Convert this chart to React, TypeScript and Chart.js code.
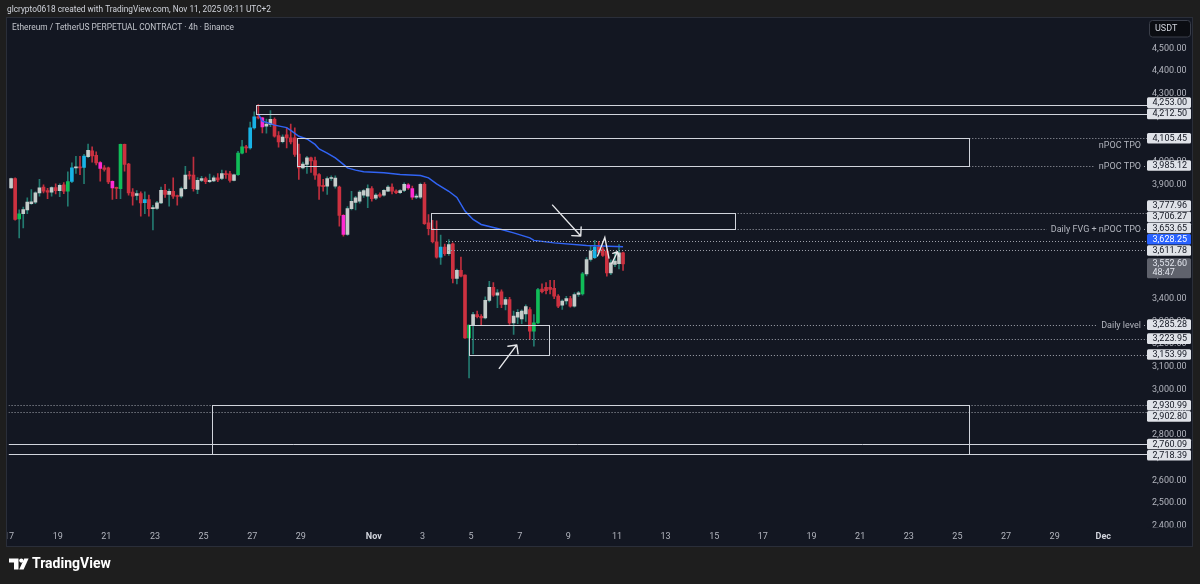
import React, { useEffect, useRef } from "react";
import { Chart, registerables } from "chart.js";

Chart.register(...registerables);

const FONT = 'Roboto, "Noto Sans", "DejaVu Sans", sans-serif';

// ---- time: days since Oct 17 00:00 (UTC+2); 4h bars, first bar Oct 17 02:00
const FIRST_BAR_DAY = 1 / 12;
const BAR_DAYS = 1 / 6;

// ---- ETHUSDT.P 4h candles
const opens = [
  3887, 3928, 3750, 3773, 3790, 3818, 3824, 3865, 3890, 3875,
  3868, 3888, 3875, 3900, 3872, 3915, 3975, 3980, 3977, 4024,
  4050, 4030, 3998, 3975, 3975, 3916, 3888, 3884, 4078, 3992,
  3869, 3854, 3862, 3822, 3836, 3796, 3797, 3821, 3876, 3858,
  3872, 3852, 3850, 3884, 3944, 3943, 3880, 3920, 3928, 3914,
  3918, 3931, 3928, 3950, 3949, 3920, 3945, 4040, 4068, 4063,
  4151, 4200, 4195, 4158, 4166, 4188, 4117, 4090, 4120, 4107,
  4107, 4036, 3975, 3990, 4019, 4007, 3945, 3898, 3894, 3928,
  3894, 3890, 3766, 3682, 3796, 3823, 3828, 3855, 3850, 3884,
  3842, 3858, 3855, 3873, 3890, 3873, 3866, 3876, 3900, 3884,
  3846, 3846, 3902, 3733, 3708, 3650, 3582, 3626, 3597, 3641,
  3489, 3524, 3503, 3227, 3283, 3330, 3322, 3315, 3392, 3450,
  3415, 3430, 3374, 3396, 3293, 3318, 3310, 3332, 3352, 3257,
  3293, 3442, 3450, 3450, 3445, 3411, 3371, 3390, 3400, 3367,
  3418, 3421, 3508, 3572, 3580, 3627, 3618, 3609, 3513, 3550,
  3553, 3601,
];
const highs = [
  3930, 3931, 3790, 3802, 3843, 3880, 3870, 3924, 3900, 3885,
  3892, 3905, 3905, 3910, 3957, 3997, 4026, 4026, 4035, 4080,
  4068, 4045, 4003, 3985, 3978, 3918, 3890, 4080, 4080, 3995,
  3884, 3875, 3870, 3870, 3855, 3810, 3828, 3890, 3903, 3882,
  3931, 3855, 3890, 3982, 3960, 4022, 3932, 3938, 3934, 3948,
  3940, 3950, 3965, 3962, 3960, 3948, 4048, 4096, 4074, 4176,
  4221, 4253, 4197, 4190, 4227, 4195, 4135, 4120, 4151, 4168,
  4151, 4080, 4000, 4026, 4022, 4022, 3950, 3925, 3935, 3940,
  3940, 3895, 3770, 3805, 3872, 3850, 3875, 3880, 3900, 3893,
  3862, 3865, 3880, 3897, 3905, 3878, 3880, 3909, 3906, 3895,
  3860, 3908, 3910, 3770, 3744, 3742, 3679, 3640, 3660, 3645,
  3530, 3582, 3505, 3283, 3340, 3345, 3330, 3408, 3476, 3470,
  3440, 3438, 3405, 3405, 3345, 3352, 3350, 3372, 3360, 3330,
  3445, 3465, 3470, 3480, 3480, 3418, 3395, 3410, 3410, 3425,
  3432, 3515, 3580, 3630, 3656, 3652, 3625, 3615, 3570, 3600,
  3638, 3605,
];
const lows = [
  3885, 3745, 3667, 3711, 3773, 3814, 3818, 3850, 3865, 3840,
  3850, 3860, 3848, 3862, 3806, 3910, 3950, 3945, 3905, 4020,
  4000, 3988, 3916, 3960, 3905, 3836, 3840, 3840, 3960, 3855,
  3811, 3834, 3763, 3773, 3763, 3702, 3792, 3818, 3845, 3806,
  3841, 3811, 3843, 3880, 3925, 3872, 3862, 3914, 3905, 3910,
  3914, 3914, 3923, 3928, 3912, 3918, 3942, 4036, 4043, 4057,
  4145, 4190, 4129, 4128, 4156, 4110, 4066, 4085, 4063, 4080,
  4025, 3924, 3970, 3950, 3955, 3924, 3836, 3872, 3858, 3920,
  3886, 3719, 3675, 3678, 3790, 3790, 3820, 3845, 3800, 3828,
  3835, 3845, 3850, 3870, 3860, 3862, 3862, 3870, 3880, 3836,
  3840, 3840, 3726, 3680, 3645, 3578, 3550, 3590, 3590, 3469,
  3464, 3495, 3225, 3051, 3157, 3315, 3285, 3310, 3385, 3410,
  3360, 3360, 3350, 3286, 3242, 3290, 3290, 3300, 3220, 3191,
  3290, 3425, 3420, 3420, 3400, 3360, 3352, 3375, 3362, 3362,
  3410, 3415, 3500, 3565, 3575, 3595, 3585, 3499, 3505, 3540,
  3530, 3524,
];
const closes = [
  3928, 3748, 3773, 3792, 3824, 3826, 3865, 3887, 3873, 3868,
  3888, 3875, 3898, 3872, 3915, 3975, 3980, 3975, 4027, 4052,
  4028, 3997, 3972, 3968, 3913, 3887, 3885, 4078, 3990, 3865,
  3850, 3862, 3821, 3836, 3796, 3800, 3821, 3876, 3858, 3872,
  3850, 3849, 3884, 3943, 3940, 3884, 3920, 3928, 3914, 3920,
  3931, 3922, 3950, 3945, 3920, 3944, 4040, 4068, 4063, 4151,
  4199, 4195, 4155, 4168, 4188, 4114, 4089, 4110, 4107, 4089,
  4034, 3975, 3992, 4019, 4005, 3943, 3894, 3892, 3928, 3932,
  3930, 3766, 3682, 3796, 3828, 3843, 3869, 3875, 3884, 3840,
  3855, 3850, 3876, 3890, 3873, 3866, 3875, 3902, 3887, 3846,
  3850, 3902, 3729, 3708, 3650, 3582, 3626, 3597, 3638, 3489,
  3524, 3499, 3227, 3283, 3330, 3320, 3315, 3392, 3450, 3415,
  3425, 3374, 3396, 3293, 3323, 3340, 3345, 3365, 3257, 3293,
  3440, 3430, 3435, 3440, 3411, 3367, 3389, 3400, 3367, 3418,
  3425, 3509, 3572, 3609, 3627, 3603, 3590, 3513, 3557, 3565,
  3601, 3552.6,
];
// candle colouring: u = up, d = down, g = green, c = cyan, m = magenta
const kinds = [
  "u","d","g","u","u","u","u","u","d","d",
  "u","d","u","d","g","c","u","d","c","u",
  "d","d","m","d","d","m","d","g","d","d",
  "d","u","d","c","d","u","u","u","d","u",
  "d","d","u","u","d","d","u","u","d","u",
  "u","d","u","d","d","u","g","g","d","c",
  "c","d","m","u","u","d","d","u","d","d",
  "d","d","u","u","d","d","d","d","u","u",
  "u","d","m","u","u","u","u","u","u","d",
  "u","d","u","u","d","d","u","u","m","m",
  "u","u","d","d","d","d","c","d","u","d",
  "u","d","d","g","u","d","d","u","u","d",
  "u","d","u","d","u","u","u","u","d","g",
  "g","d","d","d","d","d","u","u","d","u",
  "u","g","u","u","c","d","d","d","u","u",
  "u","d",
];

// anchored VWAP (blue), bar index -> value
const blueIdx = [61, 62, 63, 65, 68, 69, 71, 73, 75, 76, 78, 80, 82, 83, 85, 87, 92, 96, 101, 103, 105, 108, 110, 112, 114, 116, 121, 124, 128, 129, 134, 142, 151];
const blueVal = [4212, 4180, 4175, 4163, 4152, 4140, 4114, 4102, 4078, 4058, 4040, 4019, 3990, 3975, 3965, 3958, 3953, 3946, 3941, 3931, 3905, 3872, 3845, 3785, 3748, 3726, 3704, 3689, 3667, 3656, 3645, 3634, 3628.25];

// axes
const tickDays = [0, 2, 4, 6, 8, 10, 12, 15, 17, 19, 21, 23, 25, 27, 29, 31, 33, 35, 37, 39, 41, 43, 45];
const tickLabels = ["17", "19", "21", "23", "25", "27", "29", "Nov", "3", "5", "7", "9", "11", "13", "15", "17", "19", "21", "23", "25", "27", "29", "Dec"];
const priceTicks = [2400, 2500, 2600, 2700, 2800, 2900, 3000, 3100, 3200, 3300, 3400, 3500, 3600, 3700, 3800, 3900, 4000, 4100, 4200, 4300, 4400, 4500];
const X_MIN = -0.0205;
const X_MAX = 46.797;
const Y_MIN = 2395.2;
const Y_MAX = 4634.2;

// drawings: rectangles (days / prices)
const rectFrom = [10.16, 11.85, 17.35, 18.91, 8.36];
const rectTo = [X_MAX, 39.49, 29.84, 22.2, 39.49];
const rectTop = [4253, 4105.45, 3777.96, 3285.28, 2930.99];
const rectBottom = [4212.5, 3985.12, 3706.27, 3153.99, 2718.39];

// horizontal rays
const rayPrice = [4253, 4212.5, 4105.45, 3985.12, 3777.96, 3706.27, 3653.65, 3611.78, 3285.28, 3223.95, 3153.99, 2930.99, 2902.8, 2760.09, 2718.39];
const rayFrom = [10.16, 10.16, 39.49, 39.49, 29.84, 29.84, 17.97, 18.05, 22.2, 19.03, 22.2, X_MIN, X_MIN, X_MIN, X_MIN];
const rayDotted = [false, false, true, true, true, true, true, true, true, true, true, true, true, false, false];
const rayText = ["", "", "nPOC TPO", "nPOC TPO", "", "Daily FVG + nPOC TPO", "", "", "Daily level", "", "", "", "", "", ""];
const rayTextBelow = [false, false, true, false, false, false, false, false, false, false, false, false, false, false, false];

// arrows
const arrowFromDay = [22.35, 20.16, 24.79];
const arrowFromPrice = [3811, 3093, 3555];
const arrowToDay = [23.51, 20.88, 25.02];
const arrowToPrice = [3675, 3196, 3606];
const arrowHead = [9, 9, 5];
const zigDay = [24.2, 24.5, 24.67];
const zigPrice = [3587, 3669, 3578];

const COUNTDOWN = "48:47";
const HEADER = "glcrypto0618 created with TradingView.com, Nov 11, 2025 09:11 UTC+2";
const TITLE = "Ethereum / TetherUS PERPETUAL CONTRACT · 4h · Binance";

const OUTER = "#1e1e1e";
const PANE = "#131722";
const BODY: Record<string, string> = { u: "#c4ccca", d: "#cd3140", g: "#10bd58", c: "#18b3e6", m: "#ff2bd1" };
const WICK: Record<string, string> = { u: "#237a70", d: "#bf2f3e", g: "#237a70", c: "#237a70", m: "#bf2f3e" };

const fmt = (v: number) => v.toLocaleString("en-US", { minimumFractionDigits: 2, maximumFractionDigits: 2 });
const barDay = (i: number) => FIRST_BAR_DAY + i * BAR_DAYS;

const bgPlugin = {
  id: "bg",
  beforeDraw(chart: any) {
    const ctx = chart.ctx as CanvasRenderingContext2D;
    ctx.save();
    ctx.fillStyle = OUTER;
    ctx.fillRect(0, 0, 1200, 584);
    ctx.fillStyle = PANE;
    ctx.fillRect(7, 18, 1185, 528);
    // header
    ctx.fillStyle = "#d1d4dc";
    ctx.font = `9.5px ${FONT}`;
    ctx.textBaseline = "middle";
    ctx.textAlign = "left";
    ctx.fillText(HEADER, 7, 9.5, 264);
    // logo
    ctx.fillStyle = "#ffffff";
    ctx.beginPath();
    ctx.moveTo(9, 558.5);
    ctx.lineTo(18.5, 558.5);
    ctx.lineTo(18.5, 569.5);
    ctx.lineTo(14, 569.5);
    ctx.lineTo(14, 562.5);
    ctx.lineTo(9, 562.5);
    ctx.closePath();
    ctx.fill();
    ctx.beginPath();
    ctx.arc(21.3, 560.6, 2.1, 0, Math.PI * 2);
    ctx.fill();
    ctx.beginPath();
    ctx.moveTo(19.2, 569.5);
    ctx.lineTo(24.2, 558.5);
    ctx.lineTo(28.6, 558.5);
    ctx.lineTo(23.6, 569.5);
    ctx.closePath();
    ctx.fill();
    ctx.font = `bold 14px ${FONT}`;
    ctx.fillText("TradingView", 32, 564.5);
    ctx.restore();
  },
};

const annotPlugin = {
  id: "annot",
  afterDatasetsDraw(chart: any) {
    const ctx = chart.ctx as CanvasRenderingContext2D;
    const a = chart.chartArea;
    const xs = chart.scales.x;
    const ys = chart.scales.y;
    const X = (d: number) => xs.getPixelForValue(d);
    const Y = (p: number) => ys.getPixelForValue(p);
    const crisp = (v: number) => Math.round(v) + 0.5;

    ctx.save();
    ctx.beginPath();
    ctx.rect(a.left, a.top, a.right - a.left, a.bottom - a.top);
    ctx.clip();

    // rays
    ctx.font = `9px ${FONT}`;
    ctx.textBaseline = "middle";
    rayPrice.forEach((p, i) => {
      const y = crisp(Y(p));
      const x0 = Math.max(a.left, X(rayFrom[i]));
      ctx.strokeStyle = rayDotted[i] ? "#a2a5ae" : "#d1d4dc";
      ctx.lineWidth = 1;
      ctx.setLineDash(rayDotted[i] ? [1, 2] : []);
      const txt = rayText[i];
      ctx.beginPath();
      if (txt && !rayTextBelow[i]) {
        const w = ctx.measureText(txt).width;
        const tr = a.right - 6;
        const tl = tr - w;
        ctx.moveTo(x0, y);
        ctx.lineTo(tl - 4, y);
        ctx.moveTo(tr + 3, y);
        ctx.lineTo(a.right, y);
      } else {
        ctx.moveTo(x0, y);
        ctx.lineTo(a.right, y);
      }
      ctx.stroke();
      if (txt) {
        ctx.setLineDash([]);
        ctx.fillStyle = "#b2b5be";
        ctx.textAlign = "right";
        ctx.fillText(txt, a.right - 6, rayTextBelow[i] ? y + 7.5 : y);
      }
    });
    ctx.setLineDash([]);

    // rectangles
    ctx.strokeStyle = "#d1d4dc";
    ctx.lineWidth = 1;
    rectFrom.forEach((d, i) => {
      const x1 = crisp(X(d));
      const x2 = crisp(X(rectTo[i]));
      const y1 = crisp(Y(rectTop[i]));
      const y2 = crisp(Y(rectBottom[i]));
      ctx.strokeRect(x1, y1, x2 - x1, y2 - y1);
    });

    // arrows
    ctx.strokeStyle = "#e6e7ea";
    ctx.lineWidth = 1.4;
    ctx.lineCap = "round";
    arrowFromDay.forEach((d, i) => {
      const x1 = X(d), y1 = Y(arrowFromPrice[i]);
      const x2 = X(arrowToDay[i]), y2 = Y(arrowToPrice[i]);
      const ang = Math.atan2(y2 - y1, x2 - x1);
      ctx.beginPath();
      ctx.moveTo(x1, y1);
      ctx.lineTo(x2, y2);
      for (const s of [-1, 1]) {
        const a2 = ang + Math.PI + (s * Math.PI) / 4;
        ctx.moveTo(x2, y2);
        ctx.lineTo(x2 + arrowHead[i] * Math.cos(a2), y2 + arrowHead[i] * Math.sin(a2));
      }
      ctx.stroke();
    });
    ctx.beginPath();
    zigDay.forEach((d, i) => {
      if (i === 0) ctx.moveTo(X(d), Y(zigPrice[i]));
      else ctx.lineTo(X(d), Y(zigPrice[i]));
    });
    ctx.stroke();
    ctx.restore();

    // title
    ctx.save();
    ctx.font = `9px ${FONT}`;
    ctx.textBaseline = "middle";
    ctx.textAlign = "left";
    ctx.fillStyle = "#c2c5cc";
    ctx.fillText(TITLE, 12, 28, 222);

    // price-axis labels
    const LH = 11.2;
    const cur = closes[closes.length - 1];
    const curY = Y(cur);
    const boxTop = curY - 5.6;
    const boxBot = boxTop + 20;
    type L = { p: number; kind: string; y: number };
    const items: L[] = rayPrice.map((p) => ({ p, kind: "n", y: Y(p) }));
    items.push({ p: blueVal[blueVal.length - 1], kind: "b", y: Y(blueVal[blueVal.length - 1]) });
    const above = items.filter((l) => l.p > cur).sort((m, n) => n.y - m.y);
    const below = items.filter((l) => l.p < cur).sort((m, n) => m.y - n.y);
    let bound = boxTop;
    above.forEach((l) => {
      l.y = Math.min(l.y, bound - LH / 2);
      bound = l.y - LH / 2;
    });
    bound = boxBot;
    below.forEach((l) => {
      l.y = Math.max(l.y, bound + LH / 2);
      bound = l.y + LH / 2;
    });
    const lx = a.right;
    const lw = 44;
    const tx = a.right + 5.5;
    ctx.font = `9px ${FONT}`;
    items.forEach((l) => {
      ctx.fillStyle = l.kind === "b" ? "#2962ff" : "#dfe2e8";
      ctx.beginPath();
      ctx.roundRect(lx, l.y - 5.3, lw, 10.6, 1.5);
      ctx.fill();
      ctx.fillStyle = l.kind === "b" ? "#ffffff" : "#131722";
      ctx.fillText(fmt(l.p), tx, l.y + 0.3);
    });
    ctx.fillStyle = "#5f626c";
    ctx.beginPath();
    ctx.roundRect(lx, boxTop, lw, 20, 1.5);
    ctx.fill();
    ctx.fillStyle = "#e0e3eb";
    ctx.fillText(fmt(cur), tx, boxTop + 5.3);
    ctx.fillText(COUNTDOWN, tx, boxTop + 14.6);

    // currency box
    ctx.fillStyle = "#0b0d12";
    ctx.strokeStyle = "#3a3e49";
    ctx.lineWidth = 1;
    ctx.beginPath();
    ctx.roundRect(1149.5, 20.5, 41, 16.5, 3);
    ctx.fill();
    ctx.stroke();
    ctx.fillStyle = "#d1d4dc";
    ctx.fillText("USDT", 1155, 28.8);
    ctx.restore();
  },
};

const framePlugin = {
  id: "frame",
  afterDraw(chart: any) {
    const ctx = chart.ctx as CanvasRenderingContext2D;
    ctx.save();
    ctx.fillStyle = OUTER;
    ctx.fillRect(0, 18, 7, 530);
    ctx.fillRect(1192, 18, 8, 530);
    ctx.fillStyle = PANE;
    ctx.fillRect(1147, 527.5, 45, 18.5);
    ctx.strokeStyle = "#2a2e39";
    ctx.lineWidth = 1;
    ctx.strokeRect(6.5, 17.5, 1186, 529);
    ctx.restore();
  },
};

export default function App() {
  const ref = useRef<HTMLCanvasElement>(null);

  useEffect(() => {
    const canvas = ref.current;
    if (!canvas) return;
    const wickData = highs.map((h, i) => ({ x: barDay(i), y: [lows[i], h] }));
    const bodyData = opens.map((o, i) => ({ x: barDay(i), y: [Math.min(o, closes[i]), Math.max(o, closes[i])] }));
    const blueData = blueIdx.map((k, i) => ({ x: barDay(k), y: blueVal[i] }));

    const chart = new Chart(canvas, {
      type: "bar",
      data: {
        datasets: [
          {
            type: "line",
            data: blueData as any,
            borderColor: "#3164f4",
            borderWidth: 1.5,
            pointRadius: 0,
            tension: 0,
            fill: false,
            order: 0,
          } as any,
          {
            data: bodyData as any,
            backgroundColor: kinds.map((k) => BODY[k]),
            barThickness: 3,
            minBarLength: 1,
            grouped: false,
            borderWidth: 0,
            order: 1,
          } as any,
          {
            data: wickData as any,
            backgroundColor: kinds.map((k) => WICK[k]),
            barThickness: 1,
            grouped: false,
            borderWidth: 0,
            order: 2,
          } as any,
        ],
      },
      options: {
        responsive: false,
        maintainAspectRatio: false,
        devicePixelRatio: 1,
        animation: false,
        events: [],
        layout: { padding: { top: 18, left: 7, right: 8, bottom: 36 } },
        plugins: { legend: { display: false }, tooltip: { enabled: false } },
        scales: {
          x: {
            type: "linear",
            min: X_MIN,
            max: X_MAX,
            offset: false,
            grid: { display: false, drawTicks: false },
            border: { display: false },
            afterBuildTicks: (s: any) => {
              s.ticks = tickDays.map((v) => ({ value: v }));
            },
            afterFit: (s: any) => {
              s.height = 21;
            },
            ticks: {
              autoSkip: false,
              maxRotation: 0,
              minRotation: 0,
              padding: 4,
              color: (c: any) => (isNaN(Number(tickLabels[c.index])) ? "#d1d4dc" : "#b2b5be"),
              font: (c: any) => ({
                family: FONT,
                size: 9,
                weight: isNaN(Number(tickLabels[c.index])) ? "bold" : "normal",
              }),
              callback: (v: any) => {
                const k = tickDays.indexOf(Number(v));
                return k >= 0 ? tickLabels[k] : "";
              },
            },
          },
          y: {
            type: "linear",
            position: "right",
            min: Y_MIN,
            max: Y_MAX,
            grid: { display: false, drawTicks: false },
            border: { display: false },
            afterBuildTicks: (s: any) => {
              s.ticks = priceTicks.map((v) => ({ value: v }));
            },
            afterFit: (s: any) => {
              s.width = 45;
            },
            ticks: {
              crossAlign: "near",
              padding: 5,
              color: "#b2b5be",
              font: { family: FONT, size: 9 },
              callback: (v: any) => fmt(Number(v)),
            },
          },
        },
      } as any,
      plugins: [bgPlugin, annotPlugin, framePlugin],
    });
    return () => chart.destroy();
  }, []);

  return (
    <div style={{ position: "fixed", left: 0, top: 0, width: 1200, height: 584 }}>
      <canvas ref={ref} width={1200} height={584} style={{ display: "block", width: 1200, height: 584 }} />
    </div>
  );
}
